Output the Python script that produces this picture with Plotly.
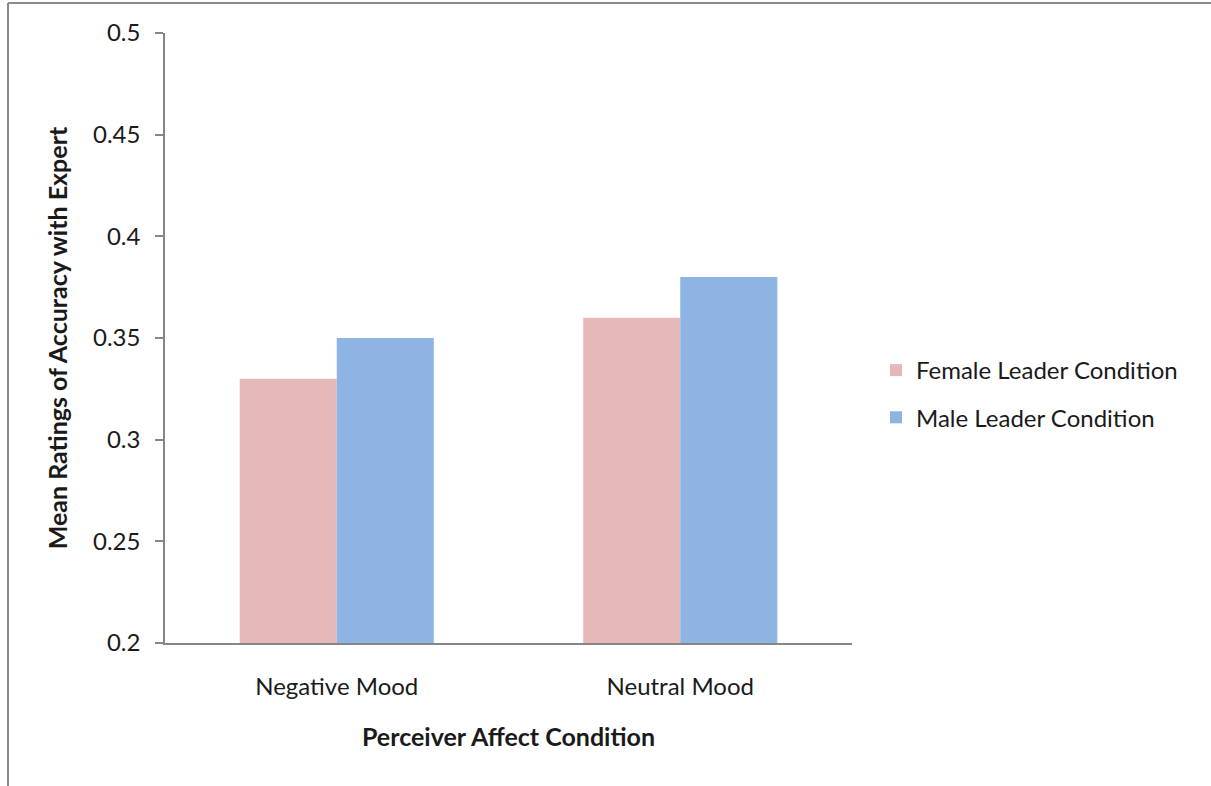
import plotly.graph_objects as go

# Perceiver affect condition categories and mean accuracy ratings
categories = ["Negative Mood", "Neutral Mood"]
female_leader = [0.33, 0.36]
male_leader = [0.35, 0.38]
y_ticks = [0.2, 0.25, 0.3, 0.35, 0.4, 0.45, 0.5]
y_tick_text = ["0.2", "0.25", "0.3", "0.35", "0.4", "0.45", "0.5"]

W, H = 1211, 786
L, R, T, B = 165, 359, 33, 143
plot_w = W - L - R
plot_h = H - T - B

FONT = "Lato"
GRAY = "#868686"
TXT = "#1a1a1a"

fig = go.Figure()
fig.add_trace(go.Bar(x=categories, y=female_leader, name="Female Leader Condition",
                     legendgroup="female",
                     marker=dict(color="#E6B9B8", line=dict(width=0))))
fig.add_trace(go.Bar(x=categories, y=male_leader, name="Male Leader Condition",
                     legendgroup="male",
                     marker=dict(color="#8EB4E3", line=dict(width=0))))

# outer frame lines (top and left edges)
def px_x(p):
    return (p - L) / plot_w

def px_y(p):
    return 1 - (p - T) / plot_h

fig.add_shape(type="line", xref="paper", yref="paper",
              x0=px_x(8), x1=px_x(1215), y0=px_y(3), y1=px_y(3),
              line=dict(color="#8a8a8a", width=2))
fig.add_shape(type="line", xref="paper", yref="paper",
              x0=px_x(8), x1=px_x(8), y0=px_y(3), y1=px_y(790),
              line=dict(color="#8a8a8a", width=2))

fig.update_layout(
    width=W, height=H,
    margin=dict(l=L, r=R, t=T, b=B),
    paper_bgcolor="white", plot_bgcolor="white",
    barmode="group", bargap=0.435, bargroupgap=0,
    font=dict(family=FONT, size=24, color=TXT),
    showlegend=True,
    legend=dict(x=px_x(876), y=px_y(348), xanchor="left", yanchor="top",
                font=dict(family=FONT, size=24, color=TXT),
                itemwidth=30, tracegroupgap=13, bgcolor="rgba(0,0,0,0)"),
    xaxis=dict(showline=True, linecolor=GRAY, linewidth=1.5, ticks="",
               showgrid=False, tickfont=dict(size=24),
               ticklabelstandoff=21,
               title=dict(text="<b>Perceiver Affect Condition</b>",
                          font=dict(size=25), standoff=30)),
    yaxis=dict(range=[0.2, 0.5], tickvals=y_ticks, ticktext=y_tick_text,
               showline=True, linecolor=GRAY, linewidth=1.5,
               ticks="outside", ticklen=8, tickcolor=GRAY, tickwidth=1.5,
               showgrid=False, zeroline=False, tickfont=dict(size=24),
               ticklabelstandoff=10,
               title=dict(text="<b>Mean Ratings of Accuracy with Expert</b>",
                          font=dict(size=25), standoff=18)),
)

fig.write_html("out.html")
